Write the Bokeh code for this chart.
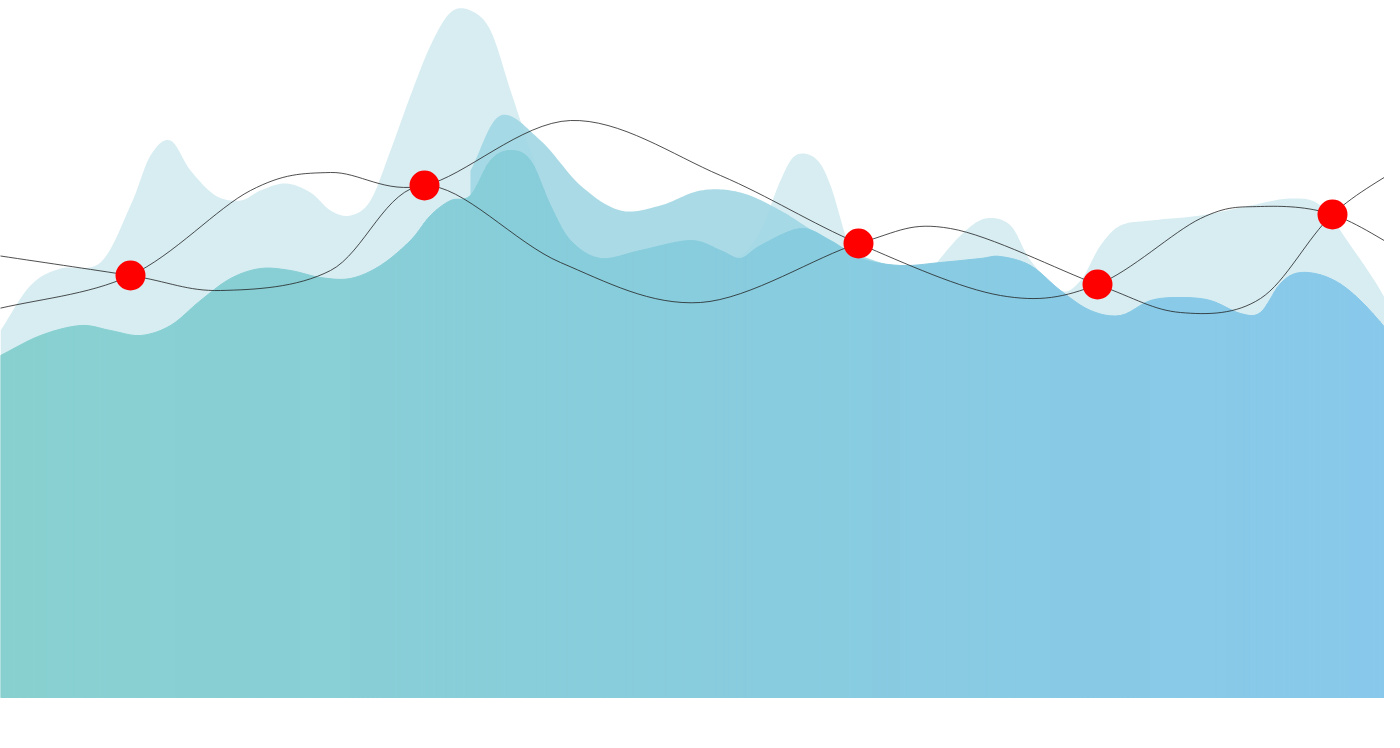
import numpy as np
from bokeh.plotting import figure
from bokeh.models import Range1d
from bokeh.embed import file_html
from bokeh.resources import INLINE

# screen-like coordinates (y grows downward)
light_x = [0, 30, 60, 100, 130, 150, 170, 190, 215, 240, 260, 285, 310, 330, 350, 370, 390, 410, 430, 450, 470, 490, 510, 530, 550, 570, 600, 640, 690, 720, 740, 760, 780, 795, 815, 830, 850, 870, 890, 910, 930, 960, 985, 1010, 1030, 1060, 1080, 1100, 1120, 1150, 1200, 1250, 1290, 1320, 1350, 1380, 1400]
light_y = [330, 285, 268, 262, 205, 155, 140, 170, 195, 200, 190, 183, 192, 210, 215, 200, 150, 95, 45, 12, 10, 30, 90, 150, 205, 240, 258, 250, 240, 250, 255, 230, 180, 155, 158, 185, 250, 285, 300, 295, 270, 235, 218, 225, 260, 290, 280, 245, 225, 220, 215, 205, 198, 205, 245, 290, 330]

mid_x = [470, 500, 540, 580, 620, 660, 700, 740, 780, 820, 860, 900]
mid_y = [170, 115, 140, 185, 210, 205, 190, 192, 210, 235, 255, 268]

front_x = [0, 40, 80, 110, 140, 170, 200, 230, 260, 290, 320, 350, 380, 410, 430, 450, 470, 490, 510, 530, 550, 570, 600, 640, 690, 720, 740, 760, 800, 830, 860, 900, 940, 980, 1000, 1030, 1060, 1090, 1120, 1150, 1180, 1210, 1240, 1260, 1280, 1300, 1330, 1360, 1400]
front_y = [355, 335, 325, 330, 335, 325, 300, 278, 268, 270, 277, 278, 265, 240, 215, 200, 195, 160, 150, 160, 205, 240, 258, 250, 240, 250, 258, 245, 228, 240, 258, 265, 262, 258, 256, 265, 290, 310, 315, 300, 297, 300, 313, 312, 283, 272, 278, 300, 345]

curve1_x = [-10, 130, 250, 330, 424, 570, 720, 858, 1000, 1097, 1200, 1260, 1332, 1410]
curve1_y = [310, 275, 190, 172, 185, 120, 175, 243, 295, 284, 218, 206, 214, 255]
curve2_x = [-10, 130, 220, 330, 424, 560, 700, 858, 950, 1097, 1180, 1260, 1332, 1410]
curve2_y = [254, 275, 290, 270, 185, 262, 302, 243, 228, 284, 312, 298, 214, 160]

dot_x = [130, 424, 858, 1097, 1332]
dot_y = [275, 185, 243, 284, 214]

BOTTOM = 697


def smooth(xs, ys, n=16):
    x = np.asarray(xs, float)
    y = np.asarray(ys, float)
    px = np.concatenate([[2 * x[0] - x[1]], x, [2 * x[-1] - x[-2]]])
    py = np.concatenate([[2 * y[0] - y[1]], y, [2 * y[-1] - y[-2]]])
    ox, oy = [], []
    for i in range(1, len(px) - 2):
        t = np.linspace(0, 1, n, endpoint=False)
        for arr, out in ((px, ox), (py, oy)):
            p0, p1, p2, p3 = arr[i - 1], arr[i], arr[i + 1], arr[i + 2]
            out.extend(0.5 * (2 * p1 + (-p0 + p2) * t + (2 * p0 - 5 * p1 + 4 * p2 - p3) * t ** 2
                              + (-p0 + 3 * p1 - 3 * p2 + p3) * t ** 3))
    ox.append(x[-1])
    oy.append(y[-1])
    return np.array(ox), np.array(oy)


p = figure(width=1384, height=730, output_backend="svg", toolbar_location=None,
           x_range=Range1d(0, 1384), y_range=Range1d(730, 0),
           min_border=0, outline_line_color=None)
p.axis.visible = False
p.grid.visible = False

lx, ly = smooth(light_x, light_y)
p.varea(x=lx, y1=ly, y2=BOTTOM, fill_color="#c9e7ee", fill_alpha=0.75)

mx, my = smooth(mid_x, mid_y)
p.varea(x=mx, y1=my, y2=BOTTOM, fill_color="#a0d6e3", fill_alpha=0.9)

# front area with horizontal gradient, drawn as thin strips
fx, fy = smooth(front_x, front_y, n=6)
c0 = np.array([0x88, 0xd1, 0xd0])
c1 = np.array([0x89, 0xc9, 0xec])
xs, ys, cols = [], [], []
for i in range(len(fx) - 1):
    t = (fx[i] + fx[i + 1]) / 2 / 1400
    c = (c0 + (c1 - c0) * t).astype(int)
    cols.append("#%02x%02x%02x" % tuple(c))
    xs.append([fx[i], fx[i + 1], fx[i + 1], fx[i]])
    ys.append([fy[i], fy[i + 1], BOTTOM, BOTTOM])
p.patches(xs, ys, fill_color=cols, line_color=cols, line_width=1)

for cx, cy in ((curve1_x, curve1_y), (curve2_x, curve2_y)):
    sx, sy = smooth(cx, cy)
    p.line(sx, sy, line_color="#222222", line_width=0.8)

p.scatter(dot_x, dot_y, size=30, fill_color="#ff0000", line_color=None)

open("out.html", "w").write(file_html(p, INLINE))
